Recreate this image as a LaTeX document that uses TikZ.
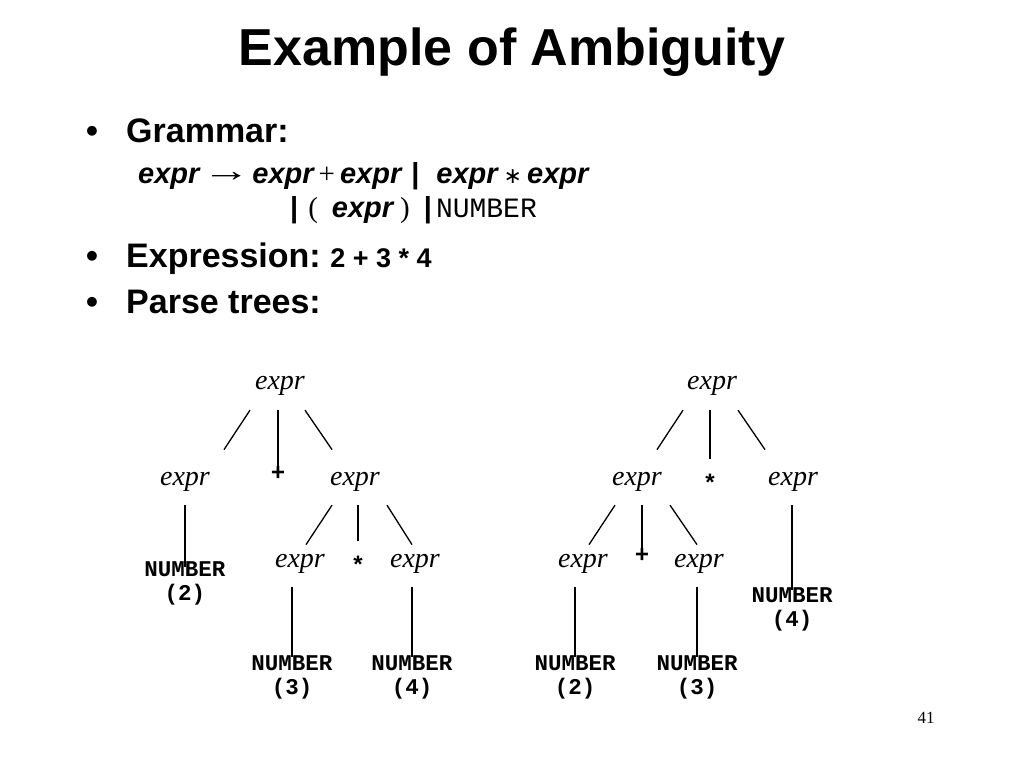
\documentclass[tikz,border=0pt]{standalone}
\usepackage{fontspec}
\usepackage{graphicx}
\setmainfont{Liberation Sans}
\newfontfamily\treefont{Liberation Serif}
\newfontfamily\codefont{Liberation Mono}
\newfontfamily\symfont{DejaVu Sans}

\newcommand{\gexpr}{{\bfseries\itshape expr}}

\tikzset{
  nt/.style={font=\fontsize{28}{30}\selectfont\treefont\itshape, inner sep=0pt, anchor=base},
  tok/.style={font=\fontsize{24}{24}\selectfont\codefont\bfseries, inner sep=0pt},
  leaf/.style={font=\fontsize{22.5}{24}\selectfont\codefont\bfseries, inner sep=0pt, align=center, anchor=north},
  branch/.style={line width=1.3pt},
  bullet/.style={font=\fontsize{34}{40}\selectfont\bfseries, inner sep=0pt, anchor=base},
  item/.style={font=\fontsize{34}{40}\selectfont\bfseries, inner sep=0pt, anchor=base west},
}

\begin{document}
\begin{tikzpicture}[x=1pt,y=-1pt]
\fill[white] (0,0) rectangle (1024,768);
\useasboundingbox (0,0) rectangle (1024,768);

\node[font=\fontsize{52}{60}\selectfont\bfseries, inner sep=0pt, anchor=base] (title) at (512,66) {Example of Ambiguity};

\node[bullet] (dot1) at (92,142) {•};
\node[item] (grammar) at (126,142) {Grammar:};
\node[anchor=base west, inner sep=0pt, font=\fontsize{29}{34}\selectfont] (rule1) at (138,183)
  {\gexpr\hspace{3pt}\raisebox{2pt}{\scalebox{1.5}[1]{\treefont\fontsize{32}{32}\selectfont →}}\hspace{2pt}\gexpr\hspace{5pt}{\treefont +}\hspace{5pt}\gexpr\hspace{10pt}{\bfseries |}\hspace{17pt}\gexpr\hspace{6pt}{\symfont\fontsize{22}{22}\selectfont ∗}\hspace{5pt}\gexpr};
\node[anchor=base west, inner sep=0pt, font=\fontsize{29}{34}\selectfont] (rule2) at (290,217)
  {{\bfseries |}\hspace{10pt}{\treefont (}\hspace{14pt}\gexpr\hspace{7pt}{\treefont )}\hspace{14pt}{\bfseries |}\hspace{4pt}{\codefont\fontsize{28}{30}\selectfont NUMBER}};

\node[bullet] (dot2) at (92,267) {•};
\node[item] (expression) at (126,267) {Expression:\hspace{-3pt} {\fontsize{27}{30}\selectfont 2 + 3 * 4}};

\node[bullet] (dot3) at (92,313) {•};
\node[item] (parse) at (126,313) {Parse trees:};

% left tree: expr + (expr * expr)
\node[nt] (r1) at (280,389) {expr};
\node[nt] (c1) at (185,485) {expr};
\node[tok] (p1) at (278,473) {+};
\node[nt] (c2) at (355,485) {expr};
\node[leaf] (n1) at (185,561) {NUMBER\\(2)};
\node[nt] (g1) at (300,567) {expr};
\node[tok] (s1) at (358,565) {*};
\node[nt] (g2) at (415,567) {expr};
\node[leaf] (n2) at (292,655) {NUMBER\\(3)};
\node[leaf] (n3) at (412,655) {NUMBER\\(4)};

\draw[branch] ([xshift=-30pt,yshift=-15pt]r1.south) -- ([xshift=39pt,yshift=22pt]c1.north);
\draw[branch, shorten <=15pt] (p1.north |- r1.south) -- (p1.north);
\draw[branch] ([xshift=25pt,yshift=-15pt]r1.south) -- ([xshift=-23pt,yshift=22pt]c2.north);
\draw[branch, shorten <=14pt, shorten >=-6pt] (n1.north |- c1.south) -- (n1.north);
\draw[branch] ([xshift=-23pt,yshift=-14pt]c2.south) -- ([xshift=6pt,yshift=9pt]g1.north);
\draw[branch, shorten <=14pt, shorten >=15pt] (s1.north |- c2.south) -- (s1.north);
\draw[branch] ([xshift=32pt,yshift=-14pt]c2.south) -- ([xshift=-3pt,yshift=9pt]g2.north);
\draw[branch, shorten <=14pt, shorten >=-2pt] (n2.north |- g1.south) -- (n2.north);
\draw[branch, shorten <=14pt, shorten >=-2pt] (n3.north |- g2.south) -- (n3.north);

% right tree: (expr + expr) * expr
\node[nt] (r2) at (712,389) {expr};
\node[nt] (d1) at (637,485) {expr};
\node[tok] (s2) at (710,483) {*};
\node[nt] (d2) at (793,485) {expr};
\node[nt] (h1) at (583,567) {expr};
\node[tok] (p2) at (642,555) {+};
\node[nt] (h2) at (699,567) {expr};
\node[leaf] (m1) at (792,587) {NUMBER\\(4)};
\node[leaf] (m2) at (575,655) {NUMBER\\(2)};
\node[leaf] (m3) at (697,655) {NUMBER\\(3)};

\draw[branch] ([xshift=-29pt,yshift=-15pt]r2.south) -- ([xshift=20pt,yshift=22pt]d1.north);
\draw[branch, shorten <=15pt, shorten >=15pt] (s2.north |- r2.south) -- (s2.north);
\draw[branch] ([xshift=26pt,yshift=-15pt]r2.south) -- ([xshift=-28pt,yshift=22pt]d2.north);
\draw[branch] ([xshift=-22pt,yshift=-14pt]d1.south) -- ([xshift=6pt,yshift=9pt]h1.north);
\draw[branch, shorten <=14pt, shorten >=-3pt] (p2.north |- d1.south) -- (p2.north);
\draw[branch] ([xshift=33pt,yshift=-14pt]d1.south) -- ([xshift=-2pt,yshift=9pt]h2.north);
\draw[branch, shorten <=14pt, shorten >=-2pt] (m2.north |- h1.south) -- (m2.north);
\draw[branch, shorten <=14pt, shorten >=-2pt] (m3.north |- h2.south) -- (m3.north);
\draw[branch, shorten <=14pt, shorten >=-3pt] (m1.north |- d2.south) -- (m1.north);

\node[font=\fontsize{17}{20}\selectfont\treefont, inner sep=0pt, anchor=base] (page) at (926,723) {41};
\end{tikzpicture}
\end{document}
